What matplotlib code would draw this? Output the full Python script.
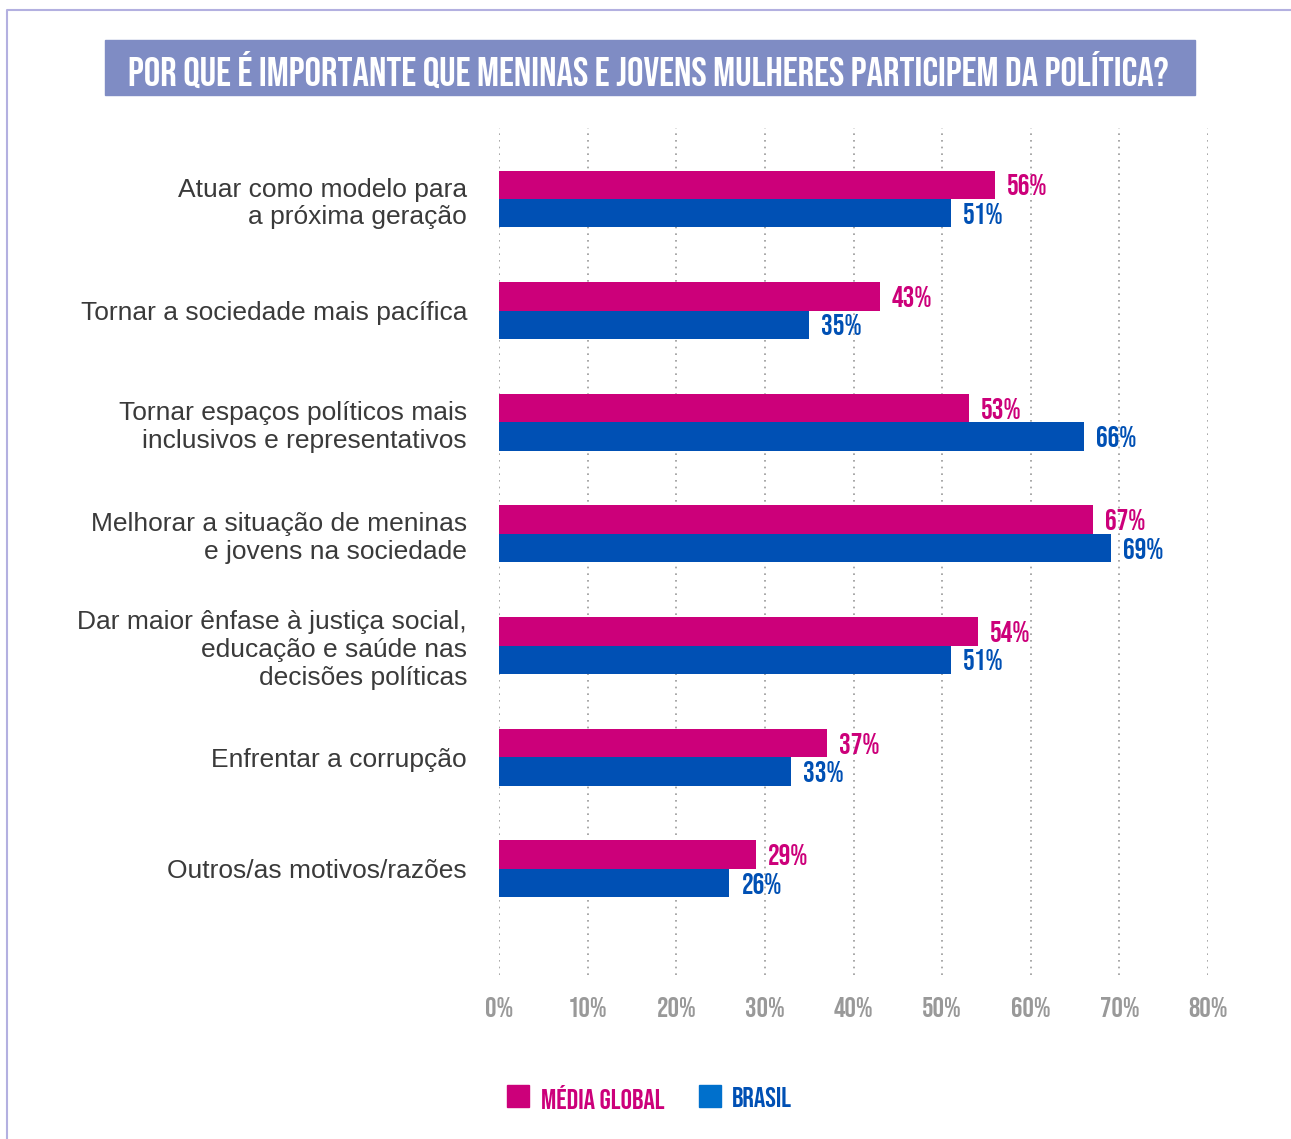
import matplotlib.pyplot as plt
from matplotlib.patches import Rectangle
from matplotlib.lines import Line2D
import matplotlib.transforms as mtransforms

categories = [
    "Atuar como modelo para\na próxima geração",
    "Tornar a sociedade mais pacífica",
    "Tornar espaços políticos mais\ninclusivos e representativos",
    "Melhorar a situação de meninas\ne jovens na sociedade",
    "Dar maior ênfase à justiça social,\neducação e saúde nas\ndecisões políticas",
    "Enfrentar a corrupção",
    "Outros/as motivos/razões",
]
media_global = [56, 43, 53, 67, 54, 37, 29]
brasil = [51, 35, 66, 69, 51, 33, 26]
ticks = [0, 10, 20, 30, 40, 50, 60, 70, 80]
series_names = ["MÉDIA GLOBAL", "BRASIL"]
title = "POR QUE É IMPORTANTE QUE MENINAS E JOVENS MULHERES PARTICIPEM DA POLÍTICA?"

PINK = "#cc007a"
BLUE = "#0050b4"
COND = ["Bebas Neue", "Oswald", "Anton", "DejaVu Sans"]

fig = plt.figure(figsize=(12.91, 11.39), dpi=100)

# frame line
fig.add_artist(Line2D([7 / 1291, 7 / 1291, 1.0], [0, 1 - 10 / 1139, 1 - 10 / 1139],
                      transform=fig.transFigure, color="#b3b0e0", lw=1.5))

# title banner
fig.add_artist(Rectangle((105 / 1291, 1 - 95 / 1139), 1090 / 1291, 55 / 1139,
                         transform=fig.transFigure, color="#7f8cc4", zorder=1))
fig.text(648 / 1291, 1 - 69 / 1139, title, ha="center", va="center", color="white",
         fontsize=29.5, family=COND, zorder=2)

ax = fig.add_axes([499 / 1291, 1 - 975 / 1139, 709 / 1291, 847 / 1139])
h = 0.255
y = list(range(len(categories)))
ax.barh([v - h / 2 for v in y], media_global, height=h, color=PINK, zorder=2)
ax.barh([v + h / 2 for v in y], brasil, height=h, color=BLUE, zorder=2)

off = mtransforms.offset_copy(ax.transData, fig=fig, x=12, y=0, units="dots")
for i in y:
    ax.text(media_global[i], i - h / 2, f"{media_global[i]}%", transform=off,
            ha="left", va="center", color=PINK, fontsize=21, family=COND)
    ax.text(brasil[i], i + h / 2, f"{brasil[i]}%", transform=off,
            ha="left", va="center", color=BLUE, fontsize=21, family=COND)

ax.set_xlim(0, 80)
ax.set_ylim(6.95, -0.636)
ax.set_xticks(ticks)
ax.set_xticklabels([f"{t}%" for t in ticks], color="#999999", fontsize=20.5, family=COND)
ax.set_yticks(y)
ax.set_yticklabels(categories, fontsize=19, color="#3a3a3a", family="Liberation Sans",
                   linespacing=1.2)
ax.tick_params(axis="both", length=0)
ax.tick_params(axis="x", pad=16)
ax.tick_params(axis="y", pad=23)
for s in ax.spines.values():
    s.set_visible(False)
ax.grid(axis="x", color="#999999", linestyle=(0, (1, 3)), lw=1.2, zorder=0)
ax.grid(axis="y", visible=False)

# legend
fig.add_artist(Rectangle((507 / 1291, 1 - 1107 / 1139), 22 / 1291, 22 / 1139,
                         transform=fig.transFigure, color=PINK))
fig.text(541 / 1291, 1 - 1097 / 1139, series_names[0], ha="left", va="center", color=PINK,
         fontsize=20.5, family=COND)
fig.add_artist(Rectangle((699 / 1291, 1 - 1107 / 1139), 22 / 1291, 22 / 1139,
                         transform=fig.transFigure, color="#0070cc"))
fig.text(732 / 1291, 1 - 1097 / 1139, series_names[1], ha="left", va="center", color=BLUE,
         fontsize=20.5, family=COND)

fig.savefig("out.png", dpi=100)
